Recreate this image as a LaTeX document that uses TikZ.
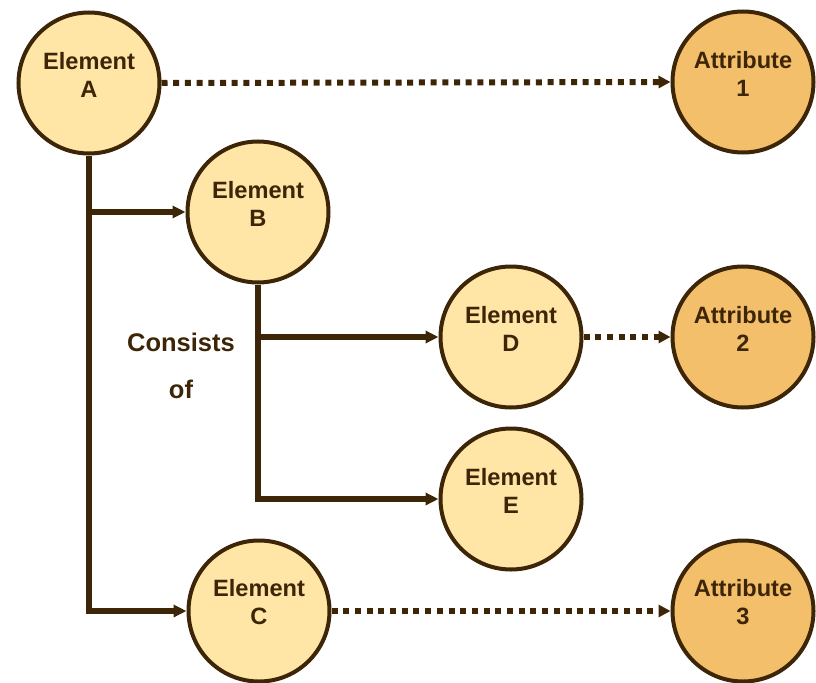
\documentclass[tikz,border=0pt]{standalone}
\usepackage{fontspec}
\setmainfont{Liberation Sans}
\usetikzlibrary{arrows.meta}

\definecolor{ink}{HTML}{3D2508}
\definecolor{elemfill}{HTML}{FFE5A6}
\definecolor{attrfill}{HTML}{F4BF6B}

\tikzset{
  ring/.style={circle, draw=ink, line width=4bp, minimum size=141bp, inner sep=0pt},
  elem/.style={ring, fill=elemfill},
  attr/.style={ring, fill=attrfill},
  lbl/.style={text=ink, align=center, inner sep=0pt, yshift=8.5bp,
    font=\bfseries\fontsize{23.6bp}{28bp}\selectfont},
  consist/.style={-{Triangle[length=13bp,width=12bp]}, draw=ink, line width=6bp},
  attrib/.style={-{Triangle[length=12bp,width=12bp]}, draw=ink, line width=6bp,
    dash pattern=on 6bp off 5.7bp},
}

\begin{document}
\begin{tikzpicture}[x=1bp, y=-1bp]
  \useasboundingbox (0,0) rectangle (816,683);

  % element and attribute circles
  \node[elem, label={[lbl, name=tA]center:{Element\\A}}] (A) at (89,83) {};
  \node[elem, label={[lbl, name=tB]center:{Element\\B}}] (B) at (258,212) {};
  \node[elem, label={[lbl, name=tC]center:{Element\\C}}] (C) at (259,611) {};
  \node[elem, label={[lbl, name=tD]center:{Element\\D}}] (D) at (511,337) {};
  \node[elem, label={[lbl, name=tE]center:{Element\\E}}] (E) at (511,499) {};
  \node[attr, label={[lbl, name=t1]center:{Attribute\\1}}] (P1) at (743,82) {};
  \node[attr, label={[lbl, name=t2]center:{Attribute\\2}}] (P2) at (743,337) {};
  \node[attr, label={[lbl, name=t3]center:{Attribute\\3}}] (P3) at (743,611) {};

  % composition tree
  \draw[consist] (A.south) |- (C.west);
  \draw[consist] (A.south |- B.west) -- (B.west);
  \draw[consist] (B.south) |- (E.west);
  \draw[consist] (B.south |- D.west) -- (D.west);

  % attribute links
  \draw[attrib] (A.east) -- (P1.west);
  \draw[attrib] (D.east) -- (P2.west);
  \draw[attrib] (C.east) -- (P3.west);

  % side caption
  \node[text=ink, align=center, inner sep=0pt, anchor=north,
        font=\bfseries\fontsize{25.5bp}{47bp}\selectfont] (cap) at (181,332.5) {Consists\\of};
\end{tikzpicture}
\end{document}
